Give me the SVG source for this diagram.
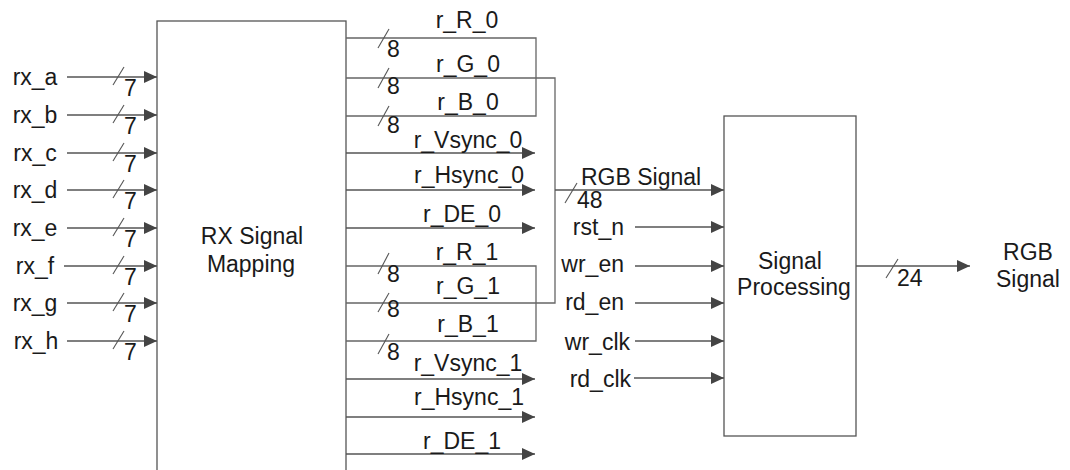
<svg xmlns="http://www.w3.org/2000/svg" width="1070" height="470" viewBox="0 0 1070 470">
<defs>
<marker id="arr" markerUnits="userSpaceOnUse" markerWidth="14" markerHeight="12" refX="13" refY="6" orient="auto">
<path d="M0,0 L13,6 L0,12 z" fill="#444"/>
</marker>
<style>
text{font-family:"Liberation Sans",Arial,sans-serif;font-size:23px;fill:#1a1a1a}
.m{text-anchor:middle}
.e{text-anchor:end}
.box{fill:#fff;stroke:#555;stroke-width:1.3}
.w{fill:none;stroke:#666;stroke-width:1.3}
.a{fill:none;stroke:#555;stroke-width:1.3;marker-end:url(#arr)}
.s{stroke:#555;stroke-width:1.1}
</style>
</defs>
<rect width="1070" height="470" fill="#fff"/>
<g id="rx_mapping">
<rect class="box" x="157" y="21" width="189" height="470"/>
<text class="m" x="252" y="244">RX Signal</text>
<text class="m" x="251" y="272">Mapping</text>
</g>
<g id="signal_processing">
<rect class="box" x="724" y="116" width="132" height="320"/>
<text class="m" x="790" y="269">Signal</text>
<text class="m" x="794" y="295">Processing</text>
</g>
<g id="connectors">
<line class="a" x1="67" y1="77" x2="157" y2="77"/>
<line class="a" x1="67" y1="115" x2="157" y2="115"/>
<line class="a" x1="67" y1="153" x2="157" y2="153"/>
<line class="a" x1="67" y1="190" x2="157" y2="190"/>
<line class="a" x1="67" y1="228" x2="157" y2="228"/>
<line class="a" x1="64" y1="266" x2="157" y2="266"/>
<line class="a" x1="67" y1="303" x2="157" y2="303"/>
<line class="a" x1="67" y1="341" x2="157" y2="341"/>
<g class="s">
<line x1="113" y1="85" x2="124" y2="67"/>
<line x1="113" y1="123" x2="124" y2="105"/>
<line x1="113" y1="161" x2="124" y2="143"/>
<line x1="113" y1="198" x2="124" y2="180"/>
<line x1="113" y1="236" x2="124" y2="218"/>
<line x1="113" y1="274" x2="124" y2="256"/>
<line x1="113" y1="311" x2="124" y2="293"/>
<line x1="113" y1="349" x2="124" y2="331"/>
</g>
<polyline class="w" points="346,38 536,38 536,116 346,116"/>
<polyline class="w" points="346,78 555,78 555,303 346,303"/>
<polyline class="w" points="346,266 536,266 536,341 346,341"/>
<g class="s">
<line x1="378" y1="48" x2="389" y2="29"/>
<line x1="378" y1="88" x2="389" y2="68"/>
<line x1="378" y1="126" x2="389" y2="106"/>
<line x1="378" y1="274" x2="389" y2="253"/>
<line x1="378" y1="312" x2="389" y2="293"/>
<line x1="378" y1="354" x2="389" y2="334"/>
</g>
<line class="a" x1="346" y1="153" x2="535" y2="153"/>
<line class="a" x1="346" y1="190" x2="535" y2="190"/>
<line class="a" x1="346" y1="228" x2="535" y2="228"/>
<line class="a" x1="346" y1="379" x2="535" y2="379"/>
<line class="a" x1="346" y1="417" x2="535" y2="417"/>
<line class="a" x1="346" y1="454" x2="535" y2="454"/>
<line class="a" x1="555" y1="190" x2="724" y2="190"/>
<line class="s" x1="565" y1="203" x2="577" y2="183"/>
<line class="a" x1="635" y1="227" x2="724" y2="227"/>
<line class="a" x1="635" y1="266" x2="724" y2="266"/>
<line class="a" x1="635" y1="303" x2="724" y2="303"/>
<line class="a" x1="635" y1="341" x2="724" y2="341"/>
<line class="a" x1="634" y1="378" x2="724" y2="378"/>
<line class="a" x1="856" y1="266" x2="970" y2="266"/>
<line class="s" x1="886" y1="278" x2="898" y2="259"/>
</g>
<g id="labels">
<text class="m" x="35" y="85">rx_a</text>
<text class="m" x="35" y="123">rx_b</text>
<text class="m" x="35" y="161">rx_c</text>
<text class="m" x="35" y="198">rx_d</text>
<text class="m" x="35" y="236">rx_e</text>
<text class="m" x="35" y="274">rx_f</text>
<text class="m" x="35" y="311">rx_g</text>
<text class="m" x="36" y="349">rx_h</text>
<text x="124" y="96">7</text>
<text x="124" y="134">7</text>
<text x="124" y="172">7</text>
<text x="124" y="209">7</text>
<text x="124" y="247">7</text>
<text x="124" y="285">7</text>
<text x="124" y="322">7</text>
<text x="124" y="360">7</text>
<text x="387" y="57">8</text>
<text x="387" y="94">8</text>
<text x="387" y="133">8</text>
<text x="387" y="282">8</text>
<text x="387" y="317">8</text>
<text x="387" y="360">8</text>
<text class="m" x="467" y="28">r_R_0</text>
<text class="m" x="468" y="72">r_G_0</text>
<text class="m" x="468" y="110">r_B_0</text>
<text class="m" x="468" y="148">r_Vsync_0</text>
<text class="m" x="469" y="183">r_Hsync_0</text>
<text class="m" x="462" y="222">r_DE_0</text>
<text class="m" x="467" y="260">r_R_1</text>
<text class="m" x="468" y="294">r_G_1</text>
<text class="m" x="468" y="332">r_B_1</text>
<text class="m" x="468" y="371">r_Vsync_1</text>
<text class="m" x="469" y="405">r_Hsync_1</text>
<text class="m" x="462" y="449">r_DE_1</text>
<text x="581" y="185">RGB Signal</text>
<text x="577" y="208">48</text>
<text class="e" x="624" y="235">rst_n</text>
<text class="e" x="624" y="272">wr_en</text>
<text class="e" x="624" y="310">rd_en</text>
<text class="e" x="630" y="350">wr_clk</text>
<text class="e" x="631" y="387">rd_clk</text>
<text x="897" y="286">24</text>
<text class="m" x="1028" y="260">RGB</text>
<text class="m" x="1028" y="287">Signal</text>
</g>
</svg>
